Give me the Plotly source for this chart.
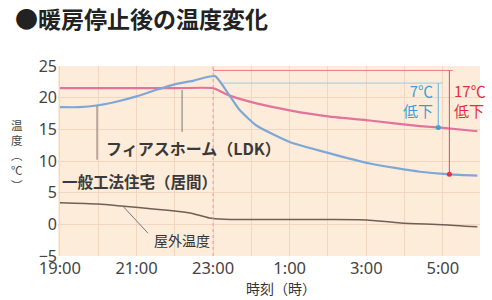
import plotly.graph_objects as go

# ---- data (hours after 19:00) ----
tick_hours = [0, 2, 4, 6, 8, 10]
tick_labels = ["19:00", "21:00", "23:00", "1:00", "3:00", "5:00"]
y_ticks = [-5, 0, 5, 10, 15, 20, 25]

general_t = [0, 0.5, 1, 1.5, 2, 2.5, 3, 3.5, 4.05, 4.4, 4.7, 5.13, 6.0, 7.05, 8.09, 9.4, 10.18, 10.9]
general_v = [18.5, 18.5, 18.8, 19.4, 20.2, 21.2, 22.1, 22.7, 23.4, 20.6, 18.0, 15.6, 13.0, 11.2, 9.6, 8.3, 7.9, 7.7]

fias_t = [0, 1, 2, 3, 4.0, 4.4, 5.13, 6.0, 7.05, 8.09, 9.4, 9.88, 10.9]
fias_v = [21.5, 21.5, 21.5, 21.5, 21.5, 20.4, 19.1, 18.0, 17.0, 16.4, 15.5, 15.3, 14.7]

outdoor_t = [0, 1, 1.6, 2.5, 3.0, 3.4, 3.9, 4.3, 5, 6, 7, 8.0, 8.9, 10.0, 10.9]
outdoor_v = [3.4, 3.2, 2.9, 2.4, 2.1, 1.8, 1.0, 0.8, 0.75, 0.75, 0.75, 0.7, 0.2, -0.05, -0.4]

heat_stop_t = 4.0
drop_fias = dict(t=9.88, top=22.3, bottom=15.3, start=4.25, end=10.0)
drop_general = dict(t=10.17, top=24.3, bottom=7.9, start=4.0, end=10.26)

JP = "Noto Sans CJK JP, Noto Sans, sans-serif"
BLUE = "#7ea7d8"
PINK = "#e2749c"
BROWN = "#6e6052"

fig = go.Figure()
fig.add_trace(go.Scatter(x=outdoor_t, y=outdoor_v, mode="lines",
                         line=dict(color=BROWN, width=1.5, shape="spline", smoothing=0.6),
                         hoverinfo="skip"))
fig.add_trace(go.Scatter(x=fias_t, y=fias_v, mode="lines",
                         line=dict(color=PINK, width=2.2, shape="spline", smoothing=0.5),
                         hoverinfo="skip"))
fig.add_trace(go.Scatter(x=general_t, y=general_v, mode="lines",
                         line=dict(color=BLUE, width=2.2, shape="spline", smoothing=0.5),
                         hoverinfo="skip"))

# heating stop dashed line
fig.add_shape(type="line", x0=heat_stop_t, x1=heat_stop_t, y0=-5, y1=25.8,
              line=dict(color="#e99a9a", width=1, dash="dot"), layer="above")
# brackets
fig.add_shape(type="line", x0=drop_general["start"], x1=drop_general["end"],
              y0=drop_general["top"], y1=drop_general["top"],
              line=dict(color="#ec7a80", width=1))
fig.add_shape(type="line", x0=drop_general["t"], x1=drop_general["t"],
              y0=drop_general["top"], y1=drop_general["bottom"],
              line=dict(color="#e8454f", width=1))
fig.add_shape(type="line", x0=drop_fias["start"], x1=drop_fias["end"],
              y0=drop_fias["top"], y1=drop_fias["top"],
              line=dict(color="#9ccbe6", width=1))
fig.add_shape(type="line", x0=drop_fias["t"], x1=drop_fias["t"],
              y0=drop_fias["top"], y1=drop_fias["bottom"],
              line=dict(color="#5fb3e0", width=1))
fig.add_trace(go.Scatter(x=[drop_fias["t"]], y=[drop_fias["bottom"]], mode="markers",
                         marker=dict(color="#3a9fd8", size=5), hoverinfo="skip"))
fig.add_trace(go.Scatter(x=[drop_general["t"]], y=[drop_general["bottom"]], mode="markers",
                         marker=dict(color="#e0303c", size=5), hoverinfo="skip"))

# pointer lines
pointers = [(3.19, 21.2, 3.19, 14.6), (0.97, 18.7, 0.97, 10.2), (1.64, 2.9, 2.3, -1.4)]
for x0, y0, x1, y1 in pointers:
    fig.add_shape(type="line", x0=x0, y0=y0, x1=x1, y1=y1,
                  line=dict(color="#777777", width=1))

def ann(text, x, y, size, color="#333333", xanchor="center", align="center", **kw):
    fig.add_annotation(text=text, x=x, y=y, showarrow=False, xanchor=xanchor,
                       yanchor="middle", align=align,
                       font=dict(family=JP, size=size, color=color), **kw)

ann("<b>フィアスホーム（LDK）</b>", 3.49, 12.05, 16, color="#3a3a3a")
ann("<b>一般工法住宅（居間）</b>", 2.09, 6.85, 15.5, color="#3a3a3a")
ann("屋外温度", 3.2, -2.5, 14)
ann("暖房停止", 4.0, 26.4, 14)
ann("7℃<br>低下", 9.8, 19.5, 15, color="#3a9fd8", xanchor="right", align="right")
ann("17℃<br>低下", 10.23, 19.5, 15, color="#e0303c", xanchor="left", align="left")
ann("時刻（時）", 5.77, -0.168, 14, yref="paper")
ann("温<br>度<br>︵<br>℃<br>︶", -0.097, 10.9, 11.5, color="#444444", xref="paper")

fig.update_layout(
    width=492, height=300,
    margin=dict(l=58, r=12, t=66, b=44),
    paper_bgcolor="white", plot_bgcolor="#fdecd9",
    showlegend=False,
    title=dict(text="<b>●暖房停止後の温度変化</b>", x=15/492, xanchor="left",
               y=1-20/300, yanchor="middle",
               font=dict(family=JP, size=23, color="#222222")),
)
fig.update_xaxes(range=[-0.05, 10.97], tickvals=tick_hours, ticktext=tick_labels,
                 showgrid=True, gridcolor="#f2d6c2", gridwidth=1,
                 minor=dict(dtick=1, showgrid=True, gridcolor="#f2d6c2"),
                 zeroline=False, showline=False, ticks="",
                 tickfont=dict(family="Noto Sans, sans-serif", size=16.5, color="#444444"))
fig.update_yaxes(range=[-5, 25], tickvals=y_ticks,
                 showgrid=True, gridcolor="#f2d6c2", gridwidth=1,
                 zeroline=False, showline=False, ticks="",
                 tickfont=dict(family="Noto Sans, sans-serif", size=16, color="#444444"))

fig.write_html("out.html", config={"displayModeBar": False},
               post_script="document.body.style.margin='0';")
